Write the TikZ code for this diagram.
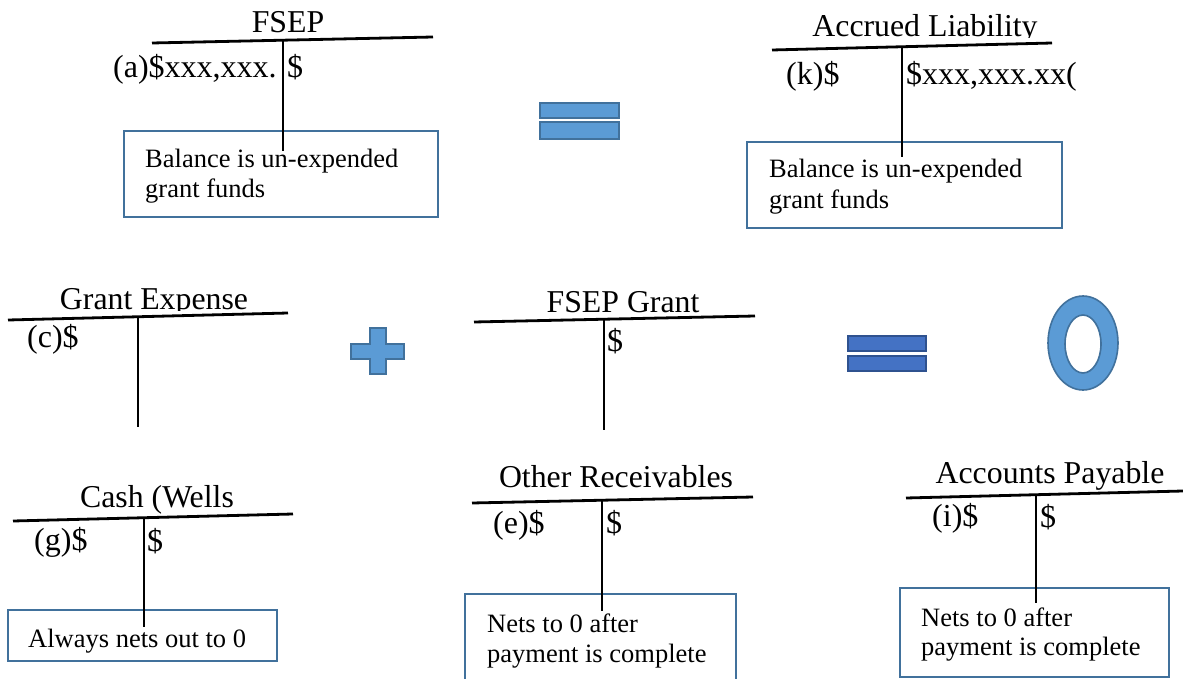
\documentclass[tikz,border=0pt]{standalone}
\usepackage{fontspec}
\setmainfont{Liberation Serif}
\definecolor{boxblue}{HTML}{41719C}
\definecolor{lightblue}{HTML}{5B9BD5}
\definecolor{midblue}{HTML}{41719C}
\definecolor{eqblue}{HTML}{4472C4}
\definecolor{eqdark}{HTML}{2F528F}
\begin{document}
\begin{tikzpicture}[x=1pt,y=-1pt,
  tline/.style={line width=2.8pt,black},
  notebox/.style={draw=boxblue,line width=2.4pt},
  ttl/.style={inner sep=0pt,anchor=base,font=\fontsize{31.8}{35}\selectfont},
  entry/.style={inner sep=0pt,anchor=base west,font=\fontsize{32}{36}\selectfont},
  note/.style={inner sep=0pt,anchor=base west,font=\fontsize{26.5}{30}\selectfont},
  shapeA/.style={fill=lightblue,draw=midblue,line width=1.6pt},
  shapeB/.style={fill=eqblue,draw=eqdark,line width=1.6pt}]
\useasboundingbox (0,0) rectangle (1183,679);
\fill[white] (0,0) rectangle (1183,679);

% ---------- FSEP ----------
\node[ttl] (fsepT) at (288,33) {FSEP};
\draw[notebox] (124,131) rectangle (438,217);
\node[note] (fsepN1) at (145,168) {Balance is un-expended};
\node[note] (fsepN2) at (145,197) {grant funds};
\coordinate (fsepL) at (152,43); \coordinate (fsepR) at (433,37);
\coordinate (fsepV1) at (283,41); \coordinate (fsepV2) at (283,151);
\draw[tline] (fsepL) -- (fsepR);
\draw[tline] (fsepV1) -- (fsepV2);
\node[entry] (fsepA) at (113,78) {(a)\$xxx,xxx.};
\node[entry] (fsepB) at (287,78) {\$};

% ---------- equals 1 ----------
\draw[shapeA] (540,103) rectangle (619,118);
\draw[shapeA] (540,122) rectangle (619,139);

% ---------- Accrued Liability ----------
\begin{scope}
\clip (700,0) rectangle (1100,38);
\node[ttl] (accT) at (925,37) {Accrued Liability};
\end{scope}
\draw[notebox] (747,142) rectangle (1062,228);
\node[note] (accN1) at (769,178) {Balance is un-expended};
\node[note] (accN2) at (769,208) {grant funds};
\coordinate (accL) at (772,50); \coordinate (accR) at (1052,43);
\coordinate (accV1) at (902,47); \coordinate (accV2) at (902,157);
\draw[tline] (accL) -- (accR);
\draw[tline] (accV1) -- (accV2);
\node[entry] (accA) at (786,85) {(k)\$};
\node[entry] (accB) at (906,85) {\$xxx,xxx.xx(};

% ---------- Grant Expense ----------
\begin{scope}
\clip (0,270) rectangle (300,310);
\node[ttl] (geT) at (154,309) {Grant Expense};
\end{scope}
\coordinate (geL) at (8,320); \coordinate (geR) at (288,313);
\coordinate (geV1) at (138,317); \coordinate (geV2) at (138,427);
\draw[tline] (geL) -- (geR);
\draw[tline] (geV1) -- (geV2);
\node[entry] (geA) at (27,347) {(c)\$};

% ---------- plus ----------
\draw[shapeA] (370,328) -- (386,328) -- (386,344) -- (404,344) -- (404,359) -- (386,359)
  -- (386,374) -- (370,374) -- (370,359) -- (351,359) -- (351,344) -- (370,344) -- cycle;

% ---------- FSEP Grant ----------
\node[ttl] (fgT) at (623,312) {FSEP Grant};
\coordinate (fgL) at (474,322); \coordinate (fgR) at (755,316);
\coordinate (fgV1) at (604,319); \coordinate (fgV2) at (604,430);
\draw[tline] (fgL) -- (fgR);
\draw[tline] (fgV1) -- (fgV2);
\node[entry] (fgB) at (607,351) {\$};

% ---------- equals 2 ----------
\draw[shapeB] (848,336) rectangle (926,351);
\draw[shapeB] (848,356) rectangle (926,371);

% ---------- zero ----------
\path[shapeA,even odd rule] (1083,343) ellipse [x radius=35pt, y radius=47pt]
  (1083,344) ellipse [x radius=18pt, y radius=29pt];

% ---------- Cash (Wells ----------
\node[ttl] (caT) at (157,507) {Cash (Wells};
\draw[notebox] (8,610) rectangle (277,661);
\node[note] (caN1) at (28,647) {Always nets out to 0};
\coordinate (caL) at (13,521); \coordinate (caR) at (293,514);
\coordinate (caV1) at (144,517); \coordinate (caV2) at (144,627);
\draw[tline] (caL) -- (caR);
\draw[tline] (caV1) -- (caV2);
\node[entry] (caA) at (34,550) {(g)\$};
\node[entry] (caB) at (147,551) {\$};

% ---------- Other Receivables ----------
\node[ttl] (orT) at (616,487) {Other Receivables};
\draw[notebox] (465,594) rectangle (736,690);
\node[note] (orN1) at (487,632) {Nets to 0 after};
\node[note] (orN2) at (487,662) {payment is complete};
\coordinate (orL) at (472,503); \coordinate (orR) at (753,497);
\coordinate (orV1) at (602,500); \coordinate (orV2) at (602,611);
\draw[tline] (orL) -- (orR);
\draw[tline] (orV1) -- (orV2);
\node[entry] (orA) at (493,533) {(e)\$};
\node[entry] (orB) at (606,533) {\$};

% ---------- Accounts Payable ----------
\node[ttl] (apT) at (1050,483) {Accounts Payable};
\draw[notebox] (900,588) rectangle (1169,677);
\node[note] (apN1) at (921,626) {Nets to 0 after};
\node[note] (apN2) at (921,655) {payment is complete};
\coordinate (apL) at (906,498); \coordinate (apR) at (1183,491);
\coordinate (apV1) at (1036,495); \coordinate (apV2) at (1036,603);
\draw[tline] (apL) -- (apR);
\draw[tline] (apV1) -- (apV2);
\node[entry] (apA) at (932,526) {(i)\$};
\node[entry] (apB) at (1040,527) {\$};
\end{tikzpicture}
\end{document}
